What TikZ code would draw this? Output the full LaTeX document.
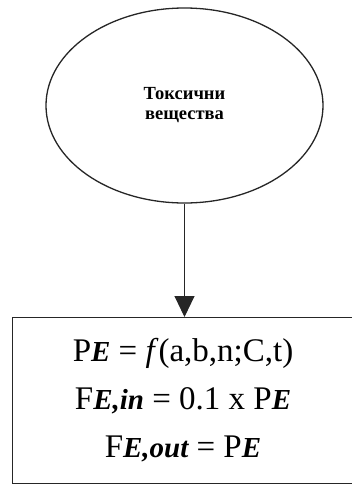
\documentclass[tikz,border=0pt]{standalone}
\usepackage{fontspec}
\setmainfont{Liberation Serif}
\usetikzlibrary{positioning,arrows.meta,shapes.geometric}
\newcommand{\idx}[1]{{\fontsize{29}{29}\selectfont\bfseries\itshape #1}}

\begin{document}
\begin{tikzpicture}[x=1pt, y=1pt,
  oval/.style={draw=black!85, ellipse, line width=1.3pt, minimum width=277pt,
    minimum height=195pt, align=center, font=\fontsize{18.5}{20}\selectfont\bfseries},
  box/.style={draw=black!85, line width=1pt, minimum width=342pt, minimum height=166pt,
    align=center, font=\fontsize{33}{48}\selectfont},
  ar/.style={-{Triangle[length=21pt,width=20pt]}, line width=1pt, black!85}
]
\useasboundingbox (0,0) rectangle (352,-485);
\clip (0,0) rectangle (352,-485);
\node[oval] (toxic) at (184.5,-105.5) {Токсични\\ вещества};
\node[box, anchor=north] (model) at (183,-317)
  {P\idx{E} = \textit{f}(a,b,n;C,t)\\
   F\idx{E,in} = 0.1 x P\idx{E}\\
   F\idx{E,out} = P\idx{E}};
\draw[ar] (toxic) -- (toxic |- model.north);
\end{tikzpicture}
\end{document}
